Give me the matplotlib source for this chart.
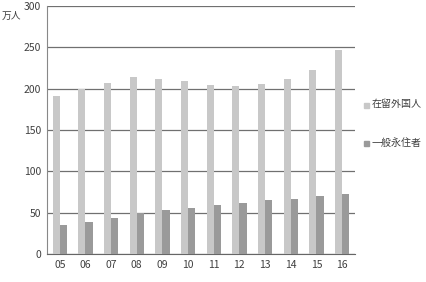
import matplotlib
matplotlib.use("Agg")
import matplotlib.pyplot as plt
import numpy as np

plt.rcParams['font.family'] = ['Noto Sans CJK JP', 'DejaVu Sans']

years = ['05', '06', '07', '08', '09', '10', '11', '12', '13', '14', '15', '16']
foreign_residents = [191, 199, 207, 214, 212, 209, 205, 203, 206, 212, 223, 247]
permanent_residents = [35, 39, 44, 50, 53, 56, 59, 62, 65, 67, 70, 73]
series_names = ['在留外国人', '一般永住者']

fig = plt.figure(figsize=(4.27, 2.82), dpi=100)
ax = fig.add_axes([0.110, 0.099, 0.721, 0.880])

x = np.arange(len(years))
w = 0.28
ax.bar(x - w / 2, foreign_residents, w, color='#c8c8c8', zorder=3)
ax.bar(x + w / 2, permanent_residents, w, color='#9a9a9a', zorder=3)

ax.set_xlim(-0.5, 11.5)
ax.set_ylim(0, 300)
ax.set_yticks(range(0, 301, 50))
ax.set_xticks(x)
ax.set_xticklabels(years)
ax.yaxis.grid(True, color='#707070', linewidth=0.9, zorder=0)
for s in ['top', 'right']:
    ax.spines[s].set_visible(False)
ax.spines['left'].set_color('#888888')
ax.spines['bottom'].set_color('#666666')
ax.tick_params(axis='both', length=0, labelsize=7.5, colors='#404040', pad=4)

fig.text(0.005, 0.945, '万人', fontsize=7, color='#404040', ha='left', va='center')

colors = ['#c8c8c8', '#9a9a9a']
ys = [0.630, 0.493]
for name, c, yy in zip(series_names, colors, ys):
    fig.patches.append(matplotlib.patches.Rectangle((0.853, yy - 0.012), 0.012, 0.018,
                                                    transform=fig.transFigure, color=c))
    fig.text(0.871, yy, name, fontsize=7.2, color='#404040', ha='left', va='center')

fig.savefig('out.png', dpi=100)
